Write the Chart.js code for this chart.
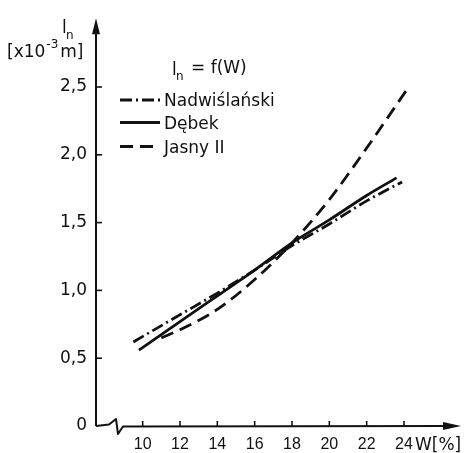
<!DOCTYPE html>
<html>
<head>
<meta charset="utf-8">
<script src="https://cdn.jsdelivr.net/npm/chart.js@4.4.1/dist/chart.umd.min.js"></script>
<style>
  html, body { margin: 0; padding: 0; background: #fff; }
  canvas { display: block; }
</style>
</head>
<body>
<canvas id="chart" width="470" height="453"></canvas>
<script>
const TEXT_FONT = "'DejaVu Sans', sans-serif";
const NUM_FONT = "'Liberation Sans', Arial, sans-serif";
const INK = "#111";

// W [%] and l_n [x10^-3 m]
const wNadwislanski = [9.5, 12, 14, 16, 18, 20, 22, 23.9];
const lNadwislanski = [0.62, 0.82, 0.98, 1.15, 1.33, 1.49, 1.66, 1.80];
const wDebek = [9.8, 12, 14, 16, 18, 20, 22, 23.6];
const lDebek = [0.56, 0.77, 0.96, 1.15, 1.35, 1.52, 1.70, 1.83];
const wJasny = [11, 12, 14, 16, 18, 20, 22, 24.2];
const lJasny = [0.65, 0.71, 0.86, 1.08, 1.35, 1.67, 2.05, 2.49];

const seriesNames = ["Nadwiślański", "Dębek", "Jasny II"];
const xTicks = [10, 12, 14, 16, 18, 20, 22, 24];
const yTicks = [0, 0.5, 1.0, 1.5, 2.0, 2.5];

const toPoints = (xs, ys) => xs.map((x, i) => ({ x: x, y: ys[i] }));

const line = (ctx, x1, y1, x2, y2) => {
  ctx.beginPath();
  ctx.moveTo(x1, y1);
  ctx.lineTo(x2, y2);
  ctx.stroke();
};

const text = (ctx, str, x, y, size, family) => {
  ctx.font = `${size}px ${family || TEXT_FONT}`;
  ctx.fillText(str, x, y);
  return x + ctx.measureText(str).width;
};

// axes with arrows, break mark, inner ticks, axis titles and the legend
const drawingPlugin = {
  id: "drawingPlugin",
  afterDatasetsDraw(chart) {
    const ctx = chart.ctx;
    const area = chart.chartArea;
    const xScale = chart.scales.x;
    const yScale = chart.scales.y;
    const x0 = area.left;
    const y0 = area.bottom;

    ctx.save();
    ctx.strokeStyle = INK;
    ctx.fillStyle = INK;
    ctx.lineWidth = 2;
    ctx.lineJoin = "round";
    ctx.setLineDash([]);

    // y axis + arrow
    line(ctx, x0, y0, x0, area.top + 10);
    ctx.beginPath();
    ctx.moveTo(x0, area.top - 1);
    ctx.lineTo(x0 - 4, area.top + 15);
    ctx.lineTo(x0 + 4, area.top + 15);
    ctx.closePath();
    ctx.fill();

    // x axis with break + arrow
    ctx.beginPath();
    ctx.moveTo(x0, y0);
    ctx.lineTo(x0 + 13, y0 - 1.5);
    ctx.lineTo(x0 + 20, y0 - 7);
    ctx.lineTo(x0 + 22, y0 + 8);
    ctx.lineTo(x0 + 27, y0 + 0.5);
    ctx.lineTo(area.right - 12, y0);
    ctx.stroke();
    ctx.beginPath();
    ctx.moveTo(area.right + 1, y0);
    ctx.lineTo(area.right - 17, y0 - 4);
    ctx.lineTo(area.right - 17, y0 + 4);
    ctx.closePath();
    ctx.fill();

    // tick marks point into the plot
    ctx.lineWidth = 1.6;
    yTicks.forEach((v) => {
      if (v === 0) return;
      const py = yScale.getPixelForValue(v);
      line(ctx, x0, py, x0 + 6, py);
    });
    xTicks.forEach((v) => {
      const px = xScale.getPixelForValue(v);
      line(ctx, px, y0, px, y0 - 5);
    });

    // axis titles
    ctx.textBaseline = "alphabetic";
    ctx.textAlign = "left";
    text(ctx, "l", 62, 33, 17);
    text(ctx, "n", 66, 39, 12);
    let cx = text(ctx, "[x10", 7, 57, 17);
    cx = text(ctx, "-3", cx + 1, 48, 12);
    text(ctx, "m]", cx + 2, 57, 17);
    text(ctx, "W[%]", 415, 450, 17);

    // legend
    text(ctx, "l", 172, 75, 17);
    text(ctx, "n", 176, 80, 12);
    text(ctx, "= f(W)", 191, 73, 17);
    const rows = [100, 122.5, 146.5];
    chart.data.datasets.forEach((ds, i) => {
      ctx.lineWidth = ds.borderWidth;
      ctx.setLineDash(ds.borderDash || []);
      line(ctx, 120, rows[i], 160, rows[i]);
      ctx.setLineDash([]);
      text(ctx, ds.label, 164, rows[i] + 6, 17);
    });
    ctx.restore();
  },
};

const makeSet = (name, xs, ys, dash) => ({
  label: name,
  data: toPoints(xs, ys),
  borderColor: INK,
  borderWidth: 2.8,
  borderDash: dash,
  borderCapStyle: "butt",
  pointRadius: 0,
  cubicInterpolationMode: "monotone",
  fill: false,
});

new Chart(document.getElementById("chart"), {
  type: "line",
  data: {
    datasets: [
      makeSet(seriesNames[0], wNadwislanski, lNadwislanski, [12, 4, 2, 4]),
      makeSet(seriesNames[1], wDebek, lDebek, []),
      makeSet(seriesNames[2], wJasny, lJasny, [13, 7]),
    ],
  },
  options: {
    responsive: false,
    animation: false,
    devicePixelRatio: 1,
    layout: { padding: { top: 10, right: 10, left: 0, bottom: 0 } },
    plugins: {
      legend: { display: false },
      tooltip: { enabled: false },
    },
    scales: {
      x: {
        type: "linear",
        min: 7.5,
        max: 27,
        grid: { display: false, drawTicks: false },
        border: { display: false },
        afterFit: (scale) => { scale.height = 27; },
        afterBuildTicks: (scale) => { scale.ticks = xTicks.map((v) => ({ value: v })); },
        ticks: {
          padding: 9,
          maxRotation: 0,
          autoSkip: false,
          color: INK,
          font: { family: NUM_FONT, size: 16 },
          callback: (v) => String(v),
        },
      },
      y: {
        type: "linear",
        min: 0,
        max: 3,
        grid: { display: false, drawTicks: false },
        border: { display: false },
        afterFit: (scale) => { scale.width = 96; },
        afterBuildTicks: (scale) => { scale.ticks = yTicks.map((v) => ({ value: v })); },
        ticks: {
          padding: 9,
          autoSkip: false,
          color: INK,
          font: { family: TEXT_FONT, size: 17 },
          callback: (v) => (v === 0 ? "0" : v.toFixed(1).replace(".", ",")),
        },
      },
    },
  },
  plugins: [drawingPlugin],
});
</script>
</body>
</html>
